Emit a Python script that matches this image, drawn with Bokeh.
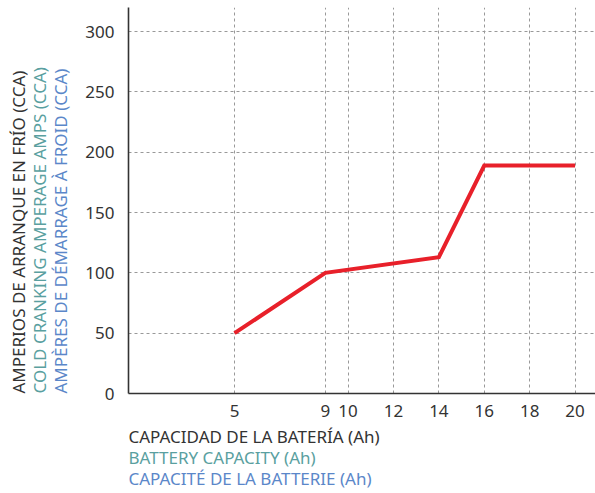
from bokeh.plotting import figure
from bokeh.models import Range1d, FixedTicker, Title
from bokeh.embed import file_html
from bokeh.resources import INLINE

capacity_ah = [5, 9, 14, 16, 20]
cca = [50, 100, 113, 189, 189]
x_ticks = [5, 9, 10, 12, 14, 16, 18, 20]
y_ticks = [0, 50, 100, 150, 200, 250, 300]
y_titles = ["AMPERIOS DE ARRANQUE EN FRÍO (CCA)",
            "COLD CRANKING AMPERAGE AMPS (CCA)",
            "AMPÈRES DE DÉMARRAGE À FROID (CCA)"]
x_titles = ["CAPACIDAD DE LA BATERÍA (Ah)",
            "BATTERY CAPACITY (Ah)",
            "CAPACITÉ DE LA BATTERIE (Ah)"]
title_colors = ["#333333", "#5a9fa0", "#5b87c9"]

FONT = "Noto Sans"

p = figure(width=595, height=493, output_backend="svg", toolbar_location=None,
           x_range=Range1d(0.33, 20.9), y_range=Range1d(0, 320),
           min_border_left=128, min_border_right=0, min_border_top=7,
           min_border_bottom=100)
p.outline_line_color = None
p.background_fill_color = "white"
p.border_fill_color = "white"

p.line(capacity_ah, cca, line_color="#e8202a", line_width=4, line_join="miter")

for ax in (p.xaxis[0], p.yaxis[0]):
    ax.axis_line_color = "#333333"
    ax.axis_line_width = 1.6
    ax.major_tick_line_color = None
    ax.minor_tick_line_color = None
    ax.major_label_text_font = FONT
    ax.major_label_text_font_size = "17px"
    ax.major_label_text_color = "#333333"
p.xaxis.ticker = FixedTicker(ticks=x_ticks)
p.yaxis.ticker = FixedTicker(ticks=y_ticks)
p.xaxis.major_label_standoff = 5
p.yaxis.major_label_standoff = 8

for g in (p.xgrid[0], p.ygrid[0]):
    g.grid_line_color = "#999999"
    g.grid_line_dash = "3 3"
    g.grid_line_width = 1
p.xgrid.ticker = FixedTicker(ticks=x_ticks)
p.ygrid.ticker = FixedTicker(ticks=y_ticks[1:])

# spacer between the y tick labels and the y titles
p.add_layout(Title(text=" ", text_font=FONT, text_font_size="17px",
                   standoff=-11.75), "left")
# y titles: nearest the axis first (blue), then teal, then black
y_standoffs = [-5, -4, -4]
for t, c, s in reversed(list(zip(y_titles, title_colors, y_standoffs))):
    p.add_layout(Title(text=t, align="left", text_font=FONT,
                       text_font_size="17px", text_font_style="normal",
                       text_color=c, standoff=s, offset=0), "left")

x_standoffs = [6, -13, 5]
for t, c, s in zip(x_titles, title_colors, x_standoffs):
    p.add_layout(Title(text=t, align="left", text_font=FONT,
                       text_font_size="17px", text_font_style="normal",
                       text_color=c, standoff=s, offset=0), "below")

open("out.html", "w").write(file_html(p, INLINE))
